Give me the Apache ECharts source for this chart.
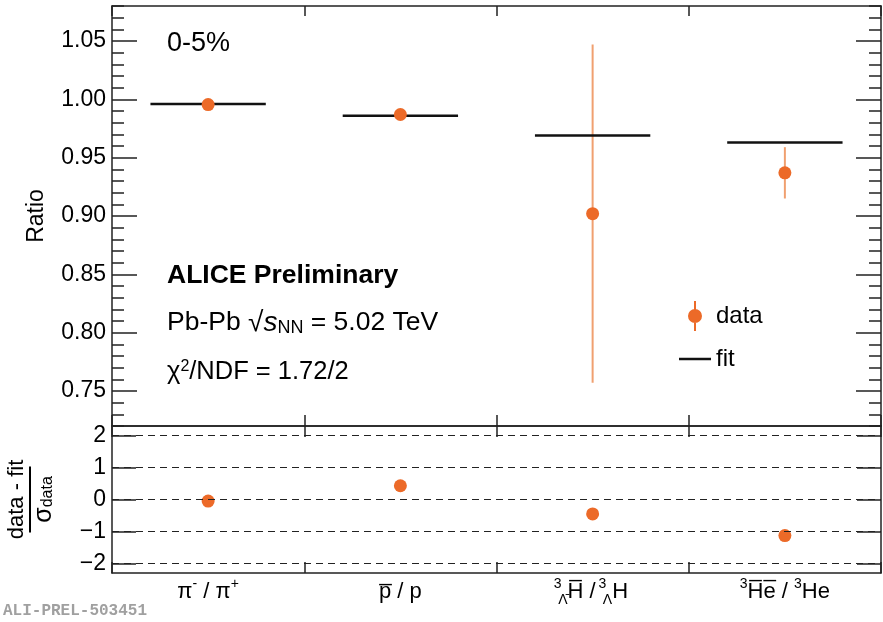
<!DOCTYPE html>
<html>
<head>
<meta charset="utf-8">
<script src="https://cdn.jsdelivr.net/npm/echarts@6.0.0/dist/echarts.min.js"></script>
<style>
html, body { margin: 0; padding: 0; background: #fff; }
#chart { width: 883px; height: 622px; }
</style>
</head>
<body>
<div id="chart"></div>
<script>
// ratios of anti-particle / particle yields, 0-5% Pb-Pb
const categories = ['pi', 'p', 'H3L', 'He3'];
const catLabels = [
    'π{sup|-} / π{sup|+}',
    'p\u0305 / p',
    '{st|3}{sub|Λ\u0304}H\u0305 / {st|3}{sub|Λ}H',
    '{sup|3}H\u0305e\u0305 / {sup|3}He'
];
const ratio = [0.9955, 0.987, 0.902, 0.937];
const ratioErr = [0.002, 0.0023, 0.145, 0.022];
const fitValue = [0.996, 0.986, 0.969, 0.963];
const residual = [-0.05, 0.43, -0.45, -1.13];
const ratioTicks = [0.75, 0.80, 0.85, 0.90, 0.95, 1.00, 1.05];
const residTicks = [-2, -1, 0, 1, 2];

const FONT = "'Liberation Sans', Arial, Helvetica, sans-serif";
const AXIS = '#222';
const ORANGE = '#ec6a28';
const ERR = '#f0a070';

var myChart = echarts.init(document.getElementById('chart'));

const axisLine = { show: true, onZero: false, lineStyle: { color: AXIS, width: 1.5 } };

function catAxis(grid, pos, len, labels) {
    return {
        type: 'category',
        gridIndex: grid,
        position: pos,
        data: categories,
        boundaryGap: true,
        axisLine: axisLine,
        axisTick: { show: true, inside: true, length: len, interval: 0, lineStyle: { color: AXIS, width: 1.5 } },
        axisLabel: labels ? {
            show: true,
            interval: 0,
            hideOverlap: false,
            margin: 4,
            color: '#000',
            fontFamily: FONT,
            fontSize: 22,
            lineHeight: 30,
            formatter: function (v, i) { return catLabels[i]; },
            rich: {
                sup: { fontSize: 14, verticalAlign: 'top', fontFamily: FONT, color: '#000' },
                sub: { fontSize: 14, verticalAlign: 'bottom', fontFamily: FONT, color: '#000' },
                st: { fontSize: 14, verticalAlign: 'top', width: 1, fontFamily: FONT, color: '#000' }
            }
        } : { show: false },
        splitLine: { show: false }
    };
}

function valAxis(grid, pos, min, max, extra) {
    return Object.assign({
        type: 'value',
        gridIndex: grid,
        position: pos,
        min: min,
        max: max,
        axisLine: axisLine,
        axisLabel: { show: false },
        splitLine: { show: false }
    }, extra);
}

const option = {
    backgroundColor: '#fff',
    animation: false,
    grid: [
        { left: 112, right: 2, top: 6, height: 420, outerBoundsMode: 'none', containLabel: false },
        { left: 112, right: 2, top: 426, height: 147, outerBoundsMode: 'none', containLabel: false }
    ],
    xAxis: [
        catAxis(0, 'bottom', 11, false),
        catAxis(0, 'top', 10, false),
        catAxis(1, 'bottom', 11, true),
        catAxis(1, 'top', 11, false)
    ],
    yAxis: [
        valAxis(0, 'left', 0.72, 1.08, {
            name: 'Ratio',
            nameLocation: 'middle',
            nameRotate: 90,
            nameGap: 64,
            nameTextStyle: { fontFamily: FONT, fontSize: 23, color: '#000' },
            axisLabel: {
                show: true, margin: 6, color: '#000', fontFamily: FONT, fontSize: 23,
                customValues: ratioTicks,
                formatter: function (v) { return v.toFixed(2); }
            },
            axisTick: { show: true, inside: true, length: 25, customValues: ratioTicks, lineStyle: { color: AXIS, width: 1.5 } }
        }),
        valAxis(0, 'left', 0.72, 1.08, {
            interval: 0.01,
            axisLine: { show: false },
            axisTick: { show: true, inside: true, length: 12, lineStyle: { color: AXIS, width: 1.5 } }
        }),
        valAxis(0, 'right', 0.72, 1.08, {
            axisTick: { show: true, inside: true, length: 25, customValues: ratioTicks, lineStyle: { color: AXIS, width: 1.5 } }
        }),
        valAxis(0, 'right', 0.72, 1.08, {
            interval: 0.01,
            axisLine: { show: false },
            axisTick: { show: true, inside: true, length: 12, lineStyle: { color: AXIS, width: 1.5 } }
        }),
        valAxis(1, 'left', -2.3, 2.3, {
            name: '{num|data - fit}\n{bar|}\n{den|σ}{dsub|data}',
            nameLocation: 'middle',
            nameRotate: 90,
            nameGap: 56,
            nameTextStyle: {
                fontFamily: FONT, color: '#000', align: 'center',
                rich: {
                    num: { fontSize: 22, fontFamily: FONT, color: '#000', lineHeight: 22 },
                    bar: { width: 66, height: 2, backgroundColor: '#000', lineHeight: 4 },
                    den: { fontSize: 25, fontFamily: FONT, color: '#000', lineHeight: 24 },
                    dsub: { fontSize: 16, fontFamily: FONT, color: '#000', verticalAlign: 'bottom', lineHeight: 24 }
                }
            },
            axisLabel: {
                show: true, margin: 6, color: '#000', fontFamily: FONT, fontSize: 23,
                customValues: residTicks,
                formatter: function (v) { return v < 0 ? '\u2212' + (-v) : String(v); }
            },
            axisTick: { show: true, inside: true, length: 24, customValues: residTicks, lineStyle: { color: AXIS, width: 1.5 } }
        }),
        valAxis(1, 'right', -2.3, 2.3, {
            axisTick: { show: true, inside: true, length: 24, customValues: residTicks, lineStyle: { color: AXIS, width: 1.5 } }
        })
    ],
    legend: {
        orient: 'vertical',
        left: 674,
        top: 296,
        itemWidth: 32,
        itemHeight: 30,
        itemGap: 16,
        selectedMode: false,
        symbolKeepAspect: true,
        textStyle: { fontFamily: FONT, fontSize: 24, color: '#000' },
        data: [
            { name: 'data', icon: 'path://M6,0H8V30H6Z M7,8A7,7,0,1,1,6.99,8Z' },
            { name: 'fit', icon: 'path://M0,0H32V2.5H0Z' }
        ]
    },
    graphic: [
        { type: 'text', style: { x: 167, y: 44, verticalAlign: 'middle', text: '0-5%', fontFamily: FONT, fontSize: 27, fill: '#000' } },
        { type: 'text', style: { x: 167, y: 276, verticalAlign: 'middle', text: 'ALICE Preliminary', fontFamily: FONT, fontWeight: 'bold', fontSize: 26.5, fill: '#000' } },
        {
            type: 'text',
            style: {
                x: 167, y: 323, verticalAlign: 'middle',
                text: 'Pb-Pb {r|√}{s|s}{sub|NN} = 5.02 TeV',
                fontFamily: FONT, fontSize: 26.5, fill: '#000',
                rich: {
                    r: { fontSize: 28, fontFamily: FONT, fill: '#000' },
                    s: { fontSize: 28, fontStyle: 'italic', fontFamily: FONT, fill: '#000' },
                    sub: { fontSize: 18, verticalAlign: 'bottom', fontFamily: FONT, fill: '#000' }
                }
            }
        },
        {
            type: 'text',
            style: {
                x: 167, y: 372, verticalAlign: 'middle',
                text: 'χ{sup|2}/NDF = 1.72/2',
                fontFamily: FONT, fontSize: 25.5, fill: '#000',
                rich: { sup: { fontSize: 16, verticalAlign: 'top', fontFamily: FONT, fill: '#000' } }
            }
        },
        { type: 'text', style: { x: 3, y: 611, verticalAlign: 'middle', text: 'ALI-PREL-503451', fontFamily: "'Liberation Mono', 'DejaVu Sans Mono', monospace", fontWeight: 'bold', fontSize: 16, fill: '#a0a0a0' } }
    ],
    series: [
        {
            name: 'err',
            type: 'custom',
            xAxisIndex: 0,
            yAxisIndex: 0,
            silent: true,
            renderItem: function (params, api) {
                var lo = api.coord([api.value(0), api.value(1)]);
                var hi = api.coord([api.value(0), api.value(2)]);
                return { type: 'line', shape: { x1: lo[0], y1: lo[1], x2: hi[0], y2: hi[1] }, style: { stroke: ERR, lineWidth: 2 } };
            },
            data: categories.map(function (c, i) { return [i, ratio[i] - ratioErr[i], ratio[i] + ratioErr[i]]; }),
            z: 2
        },
        {
            name: 'fit',
            type: 'custom',
            xAxisIndex: 0,
            yAxisIndex: 0,
            color: '#111',
            renderItem: function (params, api) {
                var p = api.coord([api.value(0), api.value(1)]);
                var bw = api.size([1, 0])[0];
                return { type: 'line', shape: { x1: p[0] - 0.3 * bw, y1: p[1], x2: p[0] + 0.3 * bw, y2: p[1] }, style: { stroke: '#111', lineWidth: 2.5 } };
            },
            data: categories.map(function (c, i) { return [i, fitValue[i]]; }),
            z: 3
        },
        {
            name: 'data',
            type: 'scatter',
            xAxisIndex: 0,
            yAxisIndex: 0,
            symbolSize: 13,
            color: ORANGE,
            itemStyle: { opacity: 1 },
            data: ratio,
            z: 4
        },
        {
            name: 'residual',
            type: 'scatter',
            xAxisIndex: 2,
            yAxisIndex: 4,
            symbolSize: 13,
            color: ORANGE,
            itemStyle: { opacity: 1 },
            data: residual,
            z: 4,
            markLine: {
                silent: true,
                symbol: ['none', 'none'],
                label: { show: false },
                lineStyle: { color: AXIS, width: 1.2, type: [7, 5] },
                data: residTicks.map(function (v) { return { yAxis: v }; })
            }
        }
    ]
};

option && myChart.setOption(option);

window.addEventListener('resize', function () {
    myChart.resize();
});
</script>
</body>
</html>
